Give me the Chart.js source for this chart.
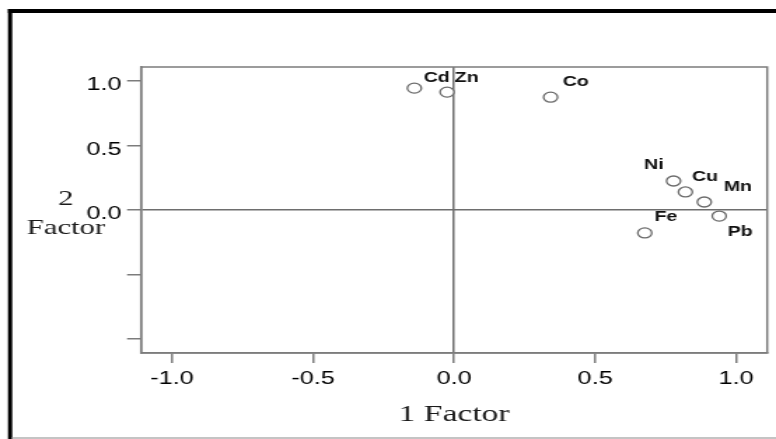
<!DOCTYPE html>
<html>
<head>
<meta charset="utf-8">
<script src="https://cdn.jsdelivr.net/npm/chart.js@4.4.1/dist/chart.umd.min.js"></script>
<style>
  html, body { margin: 0; padding: 0; background: #fff; overflow: hidden; }
</style>
</head>
<body>
<!-- the original picture is stretched sideways, so draw narrow and stretch the canvas -->
<canvas id="plot" width="554" height="439" style="display:block;width:776px;height:439px"></canvas>
<script>
// Component plot: loadings on factor 1 and factor 2
const elements = ['Cd', 'Zn', 'Co', 'Ni', 'Cu', 'Mn', 'Pb', 'Fe'];
const factor1 = [-0.141, -0.025, 0.342, 0.778, 0.820, 0.887, 0.940, 0.676];
const factor2 = [0.946, 0.915, 0.876, 0.225, 0.140, 0.062, -0.047, -0.178];

const xTickValues = [-1, -0.5, 0, 0.5, 1];
const xTickLabels = ['-1.0', '-0.5', '0.0', '0.5', '1.0'];
const yTickValues = [-1, -0.5, 0, 0.5, 1];
const yTickLabels = ['', '', '0.0', '0.5', '1.0'];

const xTitle = '1 Factor';
const yTitleLines = ['2', 'Factor'];

// where each name sits relative to its marker (canvas px)
const labelOffsets = [[16, -10], [14, -14], [18, -15], [-14, -16], [14, -15], [24, -15], [15, 16], [15, -16]];

const lineGray = '#7c7c7c';

// white page, outer black frame and the boxed plot area
const framePlugin = {
    id: 'frame',
    beforeDraw(chart) {
        const ctx = chart.ctx;
        ctx.save();
        ctx.fillStyle = '#fff';
        ctx.fillRect(0, 0, chart.width, chart.height);
        ctx.restore();
    },
    afterDraw(chart) {
        const ctx = chart.ctx;
        const a = chart.chartArea;
        ctx.save();
        // box round the plot (top and right sides are not drawn by the scales)
        ctx.strokeStyle = lineGray;
        ctx.lineWidth = 1.5;
        ctx.strokeRect(a.left, a.top, a.right - a.left, a.bottom - a.top);
        // thick black frame on top and left
        ctx.fillStyle = '#000';
        ctx.fillRect(5.7, 9, chart.width - 5.7, 4);
        ctx.fillRect(5.7, 9, 3, chart.height - 9);
        // faint line at the bottom edge
        ctx.fillStyle = '#c4c4c4';
        ctx.fillRect(8.7, chart.height - 2, chart.width, 2);

        // y title: "2" over "Factor", written level
        ctx.fillStyle = '#1a1a1a';
        ctx.font = '22px "Liberation Serif", "Times New Roman", serif';
        ctx.textAlign = 'center';
        ctx.textBaseline = 'middle';
        ctx.fillText(yTitleLines[0], 47, 199);
        ctx.fillText(yTitleLines[1], 47, 228);

        // element names next to the markers
        const meta = chart.getDatasetMeta(0);
        ctx.font = 'bold 14px "Liberation Sans", Arial, sans-serif';
        ctx.fillStyle = '#111';
        meta.data.forEach((pt, i) => {
            const off = labelOffsets[i];
            ctx.fillText(elements[i], pt.x + off[0], pt.y + off[1]);
        });
        ctx.restore();
    }
};

const gridZeroOnly = {
    drawOnChartArea: true,
    drawTicks: true,
    tickLength: 10,
    lineWidth: 1.5,
    tickColor: lineGray,
    tickWidth: 1.5,
    color: ctx => (ctx.tick && ctx.tick.value === 0 ? '#6e6e6e' : 'rgba(0,0,0,0)')
};

new Chart(document.getElementById('plot'), {
    type: 'scatter',
    data: {
        datasets: [{
            label: 'Loadings',
            data: elements.map((name, i) => ({ x: factor1[i], y: factor2[i] })),
            pointStyle: 'circle',
            pointRadius: 5,
            pointBorderWidth: 1.3,
            pointBorderColor: '#6a6a6a',
            pointBackgroundColor: '#fff'
        }]
    },
    options: {
        responsive: false,
        devicePixelRatio: 1,
        animation: false,
        layout: { padding: { left: 40.7, right: 2.6, top: 67, bottom: 10 } },
        plugins: {
            legend: { display: false },
            tooltip: { enabled: false }
        },
        scales: {
            x: {
                type: 'linear',
                position: 'bottom',
                min: -1.11,
                max: 1.11,
                afterBuildTicks: scale => { scale.ticks = xTickValues.map(v => ({ value: v })); },
                afterFit: scale => { scale.height = 76; },
                border: { display: true, color: lineGray, width: 1.5 },
                grid: gridZeroOnly,
                ticks: {
                    padding: 5,
                    color: '#000',
                    font: { family: '"Liberation Sans", Arial, sans-serif', size: 18 },
                    callback: (value, index) => xTickLabels[index]
                },
                title: {
                    display: true,
                    text: xTitle,
                    color: '#1a1a1a',
                    padding: 0,
                    font: { family: '"Liberation Serif", "Times New Roman", serif', size: 24 }
                }
            },
            y: {
                type: 'linear',
                position: 'left',
                min: -1.11,
                max: 1.11,
                afterBuildTicks: scale => { scale.ticks = yTickValues.map(v => ({ value: v })); },
                afterFit: scale => { scale.width = 60; },
                border: { display: true, color: lineGray, width: 1.5 },
                grid: gridZeroOnly,
                ticks: {
                    padding: 4,
                    labelOffset: 4,
                    color: '#000',
                    font: { family: '"Liberation Sans", Arial, sans-serif', size: 18 },
                    callback: (value, index) => yTickLabels[index]
                }
            }
        }
    },
    plugins: [framePlugin]
});
</script>
</body>
</html>
